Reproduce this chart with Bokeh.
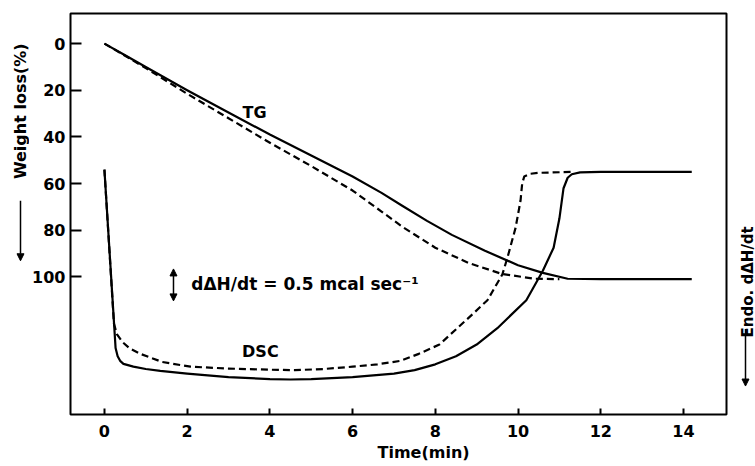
import math
from bokeh.plotting import figure
from bokeh.layouts import row
from bokeh.models import ColumnDataSource, Label, Arrow, NormalHead, Range1d
from bokeh.embed import file_html
from bokeh.resources import INLINE

# ---- data ----
x_ticks = [0, 2, 4, 6, 8, 10, 12, 14]
y_ticks = [0, 20, 40, 60, 80, 100]

tg_solid_t = [0, 0.5, 1, 2, 3, 4, 5, 6, 6.7, 7.2, 7.8, 8.4, 9.2, 10.0, 10.6, 11.2, 12, 13, 14.2]
tg_solid_w = [0, 5, 10, 20, 29.5, 39, 48, 57, 64, 69.5, 76, 82, 88.8, 95, 98.3, 100.8, 101, 101, 101]

tg_dash_t = [0, 0.5, 1, 2, 3, 4, 5, 6, 6.7, 7.2, 8.0, 8.8, 9.6, 10.4, 11.0]
tg_dash_w = [0, 5.2, 10.5, 21.5, 32, 42.5, 52.5, 63, 72, 78.5, 87.5, 94, 98.7, 100.8, 101]

dsc_solid_t = [0, 0.27, 0.32, 0.38, 0.46, 0.7, 1.0, 1.35, 2, 3, 4, 4.5, 5, 6, 7, 7.5, 8, 8.5,
               9, 9.5, 10.2, 10.6, 10.86, 11.0, 11.1, 11.2, 11.3, 11.5, 12, 13, 14.2]
dsc_solid_v = [54, 130.5, 134, 136, 137.3, 138.5, 139.5, 140.3, 141.5, 143, 143.8, 144, 143.8,
               143, 141.5, 140, 137.5, 134, 129, 122, 110, 97.4, 87.5, 75, 62, 57.5, 56, 55.2,
               55, 55, 55]

dsc_dash_t = [0, 0.23, 0.3, 0.44, 0.6, 0.87, 1.4, 2.08, 3, 4, 4.6, 5.3, 6, 6.6, 7.16, 7.6, 8.1,
              8.53, 8.9, 9.26, 9.62, 9.74, 9.94, 10.06, 10.1, 10.15, 10.3, 10.5, 11.3]
dsc_dash_v = [54, 120, 124.5, 128, 130.5, 133, 136.5, 138.5, 139.3, 139.8, 140, 139.5, 138.5,
              137.5, 136, 133, 129, 122, 116, 110, 99, 92, 79, 67.4, 60, 57, 55.8, 55.4, 55]

x_title = "Time(min)"
y_title = "Weight loss(%)"
y2_title = "Endo.  dΔH/dt"
scale_text = "dΔH/dt = 0.5 mcal sec⁻¹"

FONT = "DejaVu Sans"
H = 466
TOP, BOTTOM = 13, 52
LEFT_W, RIGHT_W = 29, 25
MAIN_W = 755 - LEFT_W - RIGHT_W

y_rng = Range1d(159, -12.9)

p = figure(width=MAIN_W, height=H, output_backend="svg", toolbar_location=None,
           title=None, x_range=Range1d(-0.82, 15.04), y_range=y_rng,
           min_border_left=41, min_border_right=4, min_border_top=TOP, min_border_bottom=BOTTOM)
p.background_fill_color = "white"
p.border_fill_color = "white"
p.grid.visible = False
p.outline_line_color = "black"
p.outline_line_width = 2

for ax in (p.xaxis, p.yaxis):
    ax.axis_line_color = None
    ax.major_tick_out = 0
    ax.minor_tick_line_color = None
    ax.major_tick_line_width = 2
    ax.major_tick_line_color = "black"
    ax.major_label_text_font = FONT
    ax.major_label_text_font_size = "16px"
    ax.major_label_text_font_style = "bold"
    ax.major_label_text_color = "black"
p.xaxis.ticker = x_ticks
p.yaxis.ticker = y_ticks
p.xaxis.major_tick_in = 6
p.yaxis.major_tick_in = 11
p.xaxis.major_label_standoff = 10
p.yaxis.major_label_standoff = 5
p.xaxis.axis_label = "\u00a0" * 9 + x_title
p.xaxis.axis_label_text_font = FONT
p.xaxis.axis_label_text_font_size = "16px"
p.xaxis.axis_label_text_font_style = "bold"
p.xaxis.axis_label_text_color = "black"
p.xaxis.axis_label_standoff = 3

def add_line(t, v, dash):
    src = ColumnDataSource(dict(t=t, v=v))
    p.line("t", "v", source=src, line_color="black", line_width=2.2,
           line_dash=dash, line_join="round")

add_line(tg_solid_t, tg_solid_w, "solid")
add_line(tg_dash_t, tg_dash_w, "7 4")
add_line(dsc_solid_t, dsc_solid_v, "solid")
add_line(dsc_dash_t, dsc_dash_v, "7 4")

def lab(fig, x, y, text, size="16px", angle=0.0, align="center"):
    fig.add_layout(Label(x=x, y=y, text=text, angle=angle, text_align=align,
                         text_baseline="middle", text_font=FONT, text_font_size=size,
                         text_font_style="bold", text_color="black"))

lab(p, 3.63, 29.5, "TG")
lab(p, 3.77, 132, "DSC")
lab(p, 2.1, 103, scale_text, size="17px", align="left")

def arrow(fig, x, y0, y1, size=7):
    fig.add_layout(Arrow(x_start=x, y_start=y0, x_end=x, y_end=y1, line_width=1.5,
                         end=NormalHead(size=size, fill_color="black", line_color="black")))

arrow(p, 1.67, 103.5, 96.6)
arrow(p, 1.67, 103.5, 110.3)

# side strips that carry the rotated axis titles and their arrows
def side(width, x0):
    f = figure(width=width, height=H, output_backend="svg", toolbar_location=None,
               title=None, x_range=Range1d(x0, x0 + width), y_range=y_rng,
               x_axis_location=None, y_axis_location=None,
               min_border_left=0, min_border_right=0, min_border_top=TOP, min_border_bottom=BOTTOM)
    f.grid.visible = False
    f.outline_line_color = None
    f.background_fill_color = "white"
    f.border_fill_color = "white"
    return f

lf = side(LEFT_W, 0)
lab(lf, 20, 29, y_title, size="16px", angle=math.pi / 2)
arrow(lf, 20, 67.4, 93.1)

rf = side(RIGHT_W, 730)
lab(rf, 747, 101, y2_title, size="15px", angle=math.pi / 2)
arrow(rf, 745, 122.3, 146.8)

layout = row(lf, p, rf, spacing=0)
open("out.html", "w").write(file_html(layout, INLINE))
